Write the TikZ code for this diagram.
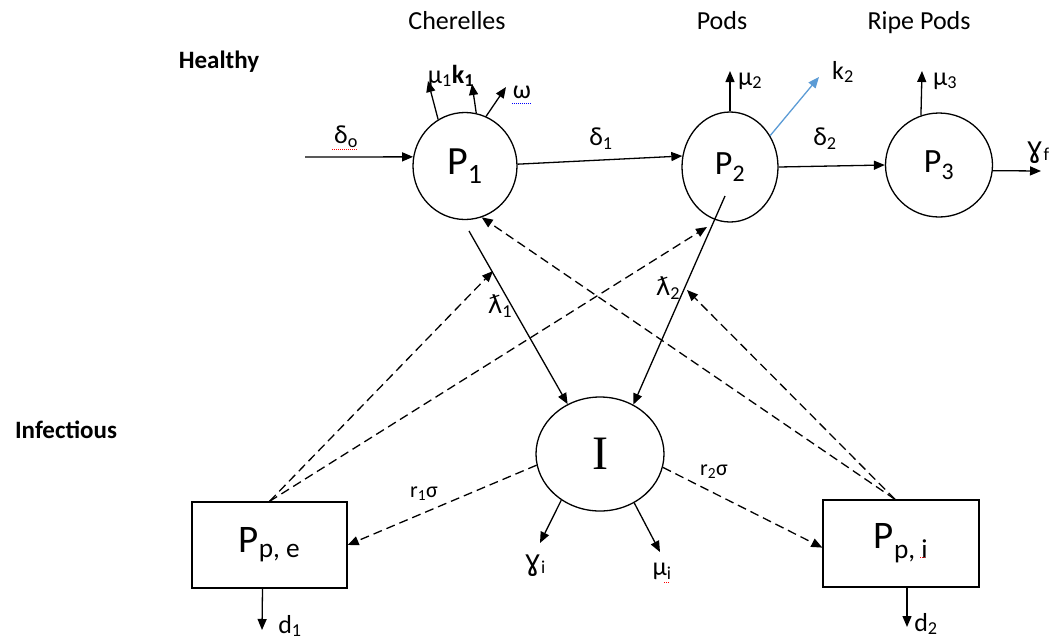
\documentclass[tikz,border=0pt]{standalone}
\usepackage{fontspec}
\setmainfont{Carlito}
\newfontfamily\dv{DejaVu Sans}[Scale=0.95]
\newfontfamily\dvg{DejaVu Sans}[Scale=1.1]
\newfontfamily\tnr{Liberation Serif}
\usetikzlibrary{arrows.meta,shapes.geometric,calc}
\definecolor{kblue}{RGB}{91,155,213}
\newcommand\lblsize{\fontsize{26}{29}\selectfont}
\begin{document}
\begin{tikzpicture}[x=1pt,y=-1pt, line width=1.3pt,
  arr/.style={-{Triangle[length=11pt,width=9pt]}},
  dsh/.style={dash pattern=on 9pt off 5pt, arr},
  circ/.style={draw, ellipse, inner sep=0pt},
  box/.style={draw, rectangle, inner sep=0pt, minimum width=155pt, minimum height=86pt, font=\fontsize{39}{42}\selectfont},
  lab/.style={font=\lblsize, inner sep=0pt},
  small/.style={font=\fontsize{22}{25}\selectfont, inner sep=0pt},
  ttl/.style={font=\fontsize{26}{30}\selectfont, inner sep=0pt, anchor=base},
  hd/.style={font=\fontsize{25}{30}\selectfont\bfseries, inner sep=0pt, anchor=base},
  spell/.style={densely dotted, line width=1pt}]
\useasboundingbox (0,0) rectangle (1054,641);

% titles
\node[ttl] (tc) at (457,29) {Cherelles};
\node[ttl] (tp) at (722,29) {Pods};
\node[ttl] (tr) at (919,29) {Ripe Pods};
\node[hd] (hh) at (219,68) {Healthy};
\node[hd] (hi) at (66,438) {Infectious};

% compartments
\node[circ, minimum width=104pt, minimum height=107pt, font=\fontsize{40}{44}\selectfont] (P1) at (465,166) {P\textsubscript{1}};
\node[circ, minimum width=96pt, minimum height=110pt, font=\fontsize{34}{38}\selectfont] (P2) at (730,167) {P\textsubscript{2}};
\node[circ, minimum width=107pt, minimum height=104pt, font=\fontsize{34}{38}\selectfont] (P3) at (939,165) {P\textsubscript{3}};
\node[circ, minimum width=128pt, minimum height=114pt, font=\fontsize{48}{52}\selectfont\tnr] (I) at (600,454) {I};
\node[box] (Ppe) at (269.5,545) {P\textsubscript{p, e}};
\node[box, minimum width=156pt, minimum height=87pt] (Ppi) at (901,543.5) {P\textsubscript{p, i}};

% inflow
\coordinate (d0s) at (305,157);
\draw[arr] (d0s) -- (P1.170);
\node[lab] (ld0) at (346,137) {δ\textsubscript{o}};
\draw[spell, red] (332,149) -- (358,149);

% P1 outflows
\coordinate (u1) at (428,81);
\coordinate (u2) at (472,84);
\coordinate (u3) at (506,87);
\draw[arr] (P1.120) -- (u1);
\draw[arr] (P1.78) -- (u2);
\draw[arr] (P1.67) -- (u3);
\node[lab, anchor=base] (lmk) at (451,83) {μ\textsubscript{1}\textbf{k\textsubscript{1}}};
\node[lab] (lw) at (522,92) {ω};
\draw[spell, blue] (512,103) -- (532,103);

% P1 -> P2
\draw[arr] (P1.2) -- (P2.167);
\node[lab] (ld1) at (601,139) {δ\textsubscript{1}};

% P2 outflows
\coordinate (m2) at (730,71);
\draw[arr] (P2.north) -- (m2);
\node[lab] (lm2) at (750,81) {μ\textsubscript{2}};
\coordinate (k2e) at (819,77);
\draw[arr, kblue] (P2.38) -- (k2e);
\node[lab] (lk2) at (843,72) {k\textsubscript{2}};
\draw[arr] (P2.east) -- (P3.west);
\node[lab] (ld2) at (825,139) {δ\textsubscript{2}};

% P3 outflows
\coordinate (m3) at (922,71);
\draw[arr] (P3.110) -- (m3);
\node[lab] (lm3) at (945,81) {μ\textsubscript{3}};
\coordinate (gf) at (1041,171);
\draw[arr] (P3.-6) -- (gf);
\node[lab, anchor=base] (lgf) at (1038,157) {{\dvg ɣ}\textsubscript{f}};

% infection
\coordinate (l1s) at (469,231);
\draw[arr] (l1s) -- (I.123);
\node[lab] (ll1) at (500,306) {{\dv ƛ}\textsubscript{1}};
\coordinate (l2s) at (725,196);
\draw[arr] (l2s) -- (I.56);
\node[lab] (ll2) at (668,288) {{\dv ƛ}\textsubscript{2}};

% dashed feedbacks
\coordinate (h1) at (493,271);
\coordinate (h2) at (707,227);
\coordinate (h4) at (687,290);
\draw[dsh] (Ppe.north) -- (h1);
\draw[dsh] (Ppe.north) -- (h2);
\draw[dsh] ($(Ppi.north)+(-6,0)$) -- (P1.-72);
\draw[dsh] ($(Ppi.north)+(-6,0)$) -- (h4);
\draw[dsh] (I.190) -- (Ppe.east);
\node[small] (lr1) at (424,494) {r\textsubscript{1}σ};
\draw[dsh] (I.-12) -- (Ppi.183);
\node[small] (lr2) at (714,472) {r\textsubscript{2}σ};

% I outflows
\coordinate (gi) at (540,543);
\draw[arr] (I.230) -- (gi);
\node[lab, anchor=base] (lgi) at (535,570) {{\dvg ɣ}\textsubscript{i}};
\coordinate (mi) at (660,552);
\draw[arr] (I.-55) -- (mi);
\node[lab] (lmi) at (662,571) {μ\textsubscript{i}};
\draw[spell, red] (664,582) -- (669,582);

% box outflows
\coordinate (d1e) at (262,630);
\draw[arr] ($(Ppe.south)+(-7,0)$) -- (d1e);
\node[lab] (ld1b) at (290,626) {d\textsubscript{1}};
\coordinate (d2e) at (907,627);
\draw[arr] ($(Ppi.south)+(6,0)$) -- (d2e);
\node[lab] (ld2b) at (926,624) {d\textsubscript{2}};
\draw[spell, red] (920,557) -- (926,557);
\end{tikzpicture}
\end{document}
